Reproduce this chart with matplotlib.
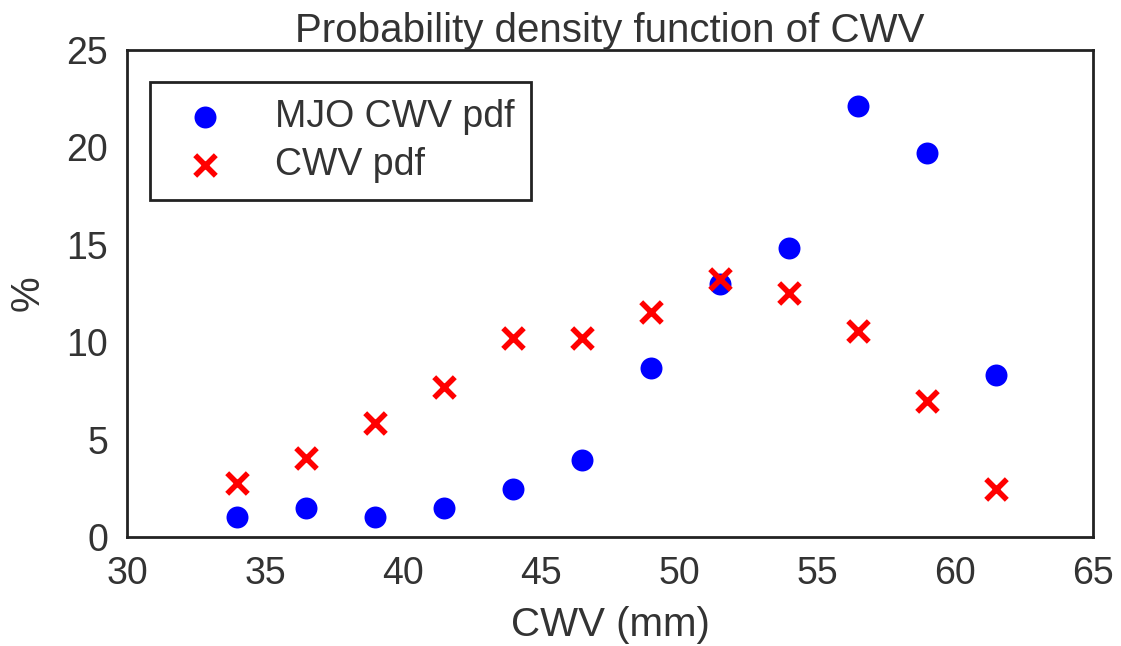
import matplotlib.pyplot as plt
import seaborn as sns

# bin centres of CWV (mm)
cwv_bins = [34, 36.5, 39, 41.5, 44, 46.5, 49, 51.5, 54, 56.5, 59, 61.5]

# pdf values (%)
mjo_pdf = [1.03, 1.49, 1.03, 1.49, 2.46, 3.95, 8.68, 12.99, 14.84, 22.13, 19.71, 8.32]
cwv_pdf = [2.77, 4.06, 5.85, 7.70, 10.22, 10.22, 11.55, 13.24, 12.53, 10.57, 6.98, 2.46]

sns.set_style("white")
plt.rcParams['font.family'] = ['Liberation Sans', 'DejaVu Sans']

fig = plt.figure(figsize=(11.21, 6.46), dpi=100)
ax = fig.add_axes([0.1133, 0.1687, 0.8617, 0.7539])

ax.scatter(cwv_bins, mjo_pdf, s=250, c='blue', marker='o', linewidths=0, label='MJO CWV pdf', zorder=3)
ax.scatter(cwv_bins, cwv_pdf, s=220, c='red', marker='x', linewidths=4, label='CWV pdf', zorder=3)

ax.set_xlim(30, 65)
ax.set_ylim(0, 25)
ax.set_xticks(range(30, 66, 5))
ax.set_yticks(range(0, 26, 5))
ax.tick_params(labelsize=27, colors='#333333', pad=10)
for sp in ax.spines.values():
    sp.set_color('#222222')
    sp.set_linewidth(2)

ax.set_title("Probability density function of CWV", fontsize=29, color='#333333', pad=6)
ax.set_xlabel("CWV (mm)", fontsize=29, color='#333333', labelpad=10)
ax.set_ylabel("%", fontsize=29, color='#333333', labelpad=14)

leg = ax.legend(loc='upper left', scatterpoints=1, fontsize=27, frameon=True, fancybox=False,
                framealpha=1, edgecolor='#222222', borderpad=0.45, handletextpad=0.87,
                handlelength=2.0, labelspacing=0.33, borderaxespad=0,
                bbox_to_anchor=(0.024, 0.935))
leg.get_frame().set_linewidth(2)
for t in leg.get_texts():
    t.set_color('#333333')

fig.savefig("out.png", dpi=100, facecolor='white')
